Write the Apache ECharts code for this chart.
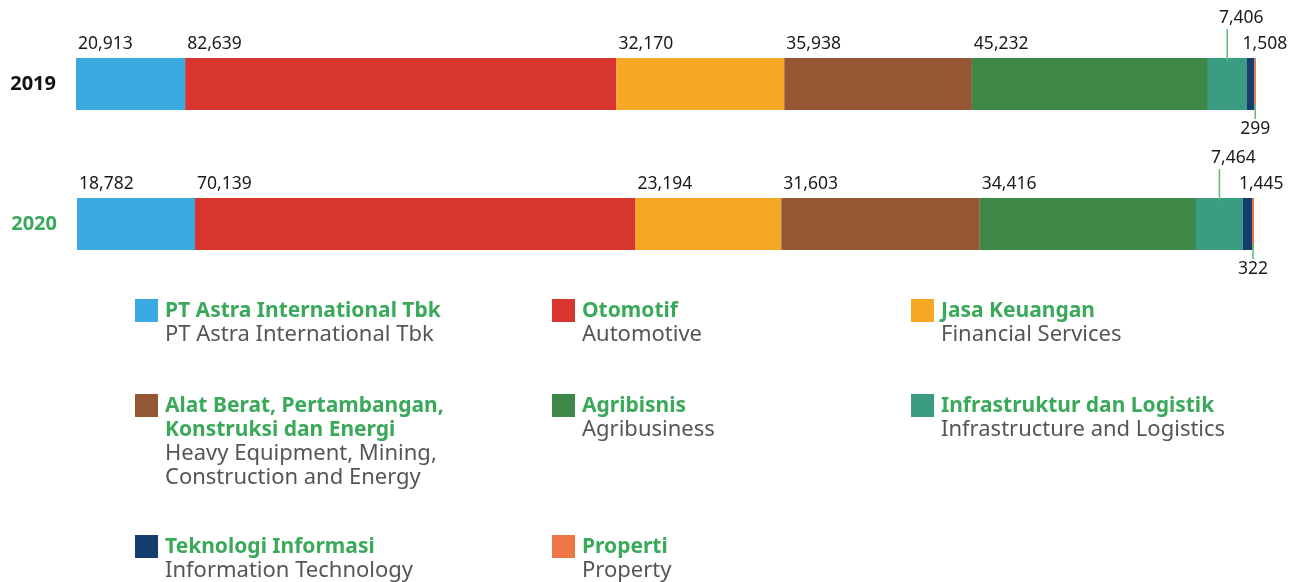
<!DOCTYPE html>
<html>
<head>
<meta charset="utf-8">
<script src="https://cdn.jsdelivr.net/npm/echarts@6/dist/echarts.min.js"></script>
<style>
  html, body { margin: 0; padding: 0; background: #ffffff; }
  #chart { width: 1302px; height: 582px; }
</style>
</head>
<body>
<div id="chart"></div>
<script>
// Sector names (Indonesian / English) and yearly values
const sectorsId = [
  'PT Astra International Tbk',
  'Otomotif',
  'Jasa Keuangan',
  'Alat Berat, Pertambangan,\nKonstruksi dan Energi',
  'Agribisnis',
  'Infrastruktur dan Logistik',
  'Teknologi Informasi',
  'Properti'
];
const sectorsEn = [
  'PT Astra International Tbk',
  'Automotive',
  'Financial Services',
  'Heavy Equipment, Mining,\nConstruction and Energy',
  'Agribusiness',
  'Infrastructure and Logistics',
  'Information Technology',
  'Property'
];
const years = ['2019', '2020'];
const values2019 = [20913, 82639, 32170, 35938, 45232, 7406, 1508, 299];
const values2020 = [18782, 70139, 23194, 31603, 34416, 7464, 1445, 322];

const sectorColors = ['#38aae1', '#d9352f', '#f5a823', '#955633', '#3d8747', '#3a9c80', '#143e6e', '#ef7747'];
// where each segment's value label goes
const labelPlacement = ['top', 'top', 'top', 'top', 'top', 'raised', 'near', 'below'];

const valuesByYear = [values2019, values2020];
const GREEN = '#3aa95a';
const FONT = '"Noto Sans", sans-serif';
const BAR_H = 52;

const fmt = v => v.toLocaleString('en-US');

const chart = echarts.init(document.getElementById('chart'), null, { renderer: 'canvas' });

const grids = [
  { left: 76, right: 46, top: 58, height: BAR_H },
  { left: 77, right: 48, top: 198, height: BAR_H }
];

const xAxes = valuesByYear.map((vals, k) => ({
  type: 'value', gridIndex: k, min: 0, max: vals.reduce((s, v) => s + v, 0),
  show: false
}));

const yAxes = years.map((y, k) => ({
  type: 'category', gridIndex: k, data: [y],
  axisLine: { show: false }, axisTick: { show: false }, splitLine: { show: false },
  axisLabel: {
    margin: 20, fontSize: 20, fontWeight: 'bold', fontFamily: FONT,
    color: k === 0 ? '#111111' : GREEN
  }
}));

const series = [];
valuesByYear.forEach((vals, k) => {
  vals.forEach((v, i) => {
    series.push({
      type: 'bar', name: sectorsId[i], xAxisIndex: k, yAxisIndex: k,
      stack: 'total' + k, barWidth: BAR_H, silent: true,
      itemStyle: { color: sectorColors[i] },
      data: [v]
    });
  });
  // value labels and leader lines, positioned from the stacked extents
  let cum = 0;
  const rows = vals.map((v, i) => { const r = [cum, v, i]; cum += v; return r; });
  series.push({
    type: 'custom', xAxisIndex: k, yAxisIndex: k, clip: false, silent: true, z: 5,
    encode: { x: 0 },
    data: rows,
    renderItem: (params, api) => {
      const start = api.value(0), v = api.value(1), i = api.value(2);
      const a = api.coord([start, 0]);
      const b = api.coord([start + v, 0]);
      const top = a[1] - BAR_H / 2, bottom = a[1] + BAR_H / 2;
      const cx = (a[0] + b[0]) / 2;
      const textStyle = (x, y, align) => ({
        text: fmt(v), x, y, align, verticalAlign: 'middle',
        font: '17.5px ' + FONT, fill: '#1a1a1a'
      });
      const line = (x, y1, y2) => ({
        type: 'line', shape: { x1: x, y1, x2: x, y2 },
        style: { stroke: '#5dbb7c', lineWidth: 1.5 }
      });
      const kind = labelPlacement[i];
      const children = [];
      if (kind === 'top') {
        children.push({ type: 'text', style: textStyle(a[0] + 2, top - 14, 'left') });
      } else if (kind === 'raised') {
        children.push(line(cx, top - 29, top + 3));
        children.push({ type: 'text', style: textStyle(cx + 14, top - 40, 'center') });
      } else if (kind === 'near') {
        children.push({ type: 'text', style: textStyle(a[0] - 4, top - 14, 'left') });
      } else if (kind === 'below') {
        children.push(line(cx, bottom - 6, bottom + 9));
        children.push({ type: 'text', style: textStyle(cx, bottom + 19, 'center') });
      }
      return { type: 'group', children };
    }
  });
});

// legend: coloured square, Indonesian name (green bold), English name (grey)
const colX = [135, 552, 911];
const rowY = [299, 394, 535];
const graphic = [];
sectorsId.forEach((name, i) => {
  const x = colX[i % 3], y = rowY[Math.floor(i / 3)];
  const idLines = name.split('\n').length;
  graphic.push({
    type: 'rect', left: x, top: y, silent: true,
    shape: { width: 23, height: 23 }, style: { fill: sectorColors[i] }
  });
  graphic.push({
    type: 'text', left: x + 30, top: y, silent: true,
    style: { text: name, font: 'bold 21px ' + FONT, fill: GREEN, lineHeight: 24 }
  });
  graphic.push({
    type: 'text', left: x + 30, top: y + 24 * idLines, silent: true,
    style: { text: sectorsEn[i], font: '22px ' + FONT, fill: '#555555', lineHeight: 24 }
  });
});

chart.setOption({
  animation: false,
  backgroundColor: '#ffffff',
  grid: grids,
  xAxis: xAxes,
  yAxis: yAxes,
  series,
  graphic
});
</script>
</body>
</html>
